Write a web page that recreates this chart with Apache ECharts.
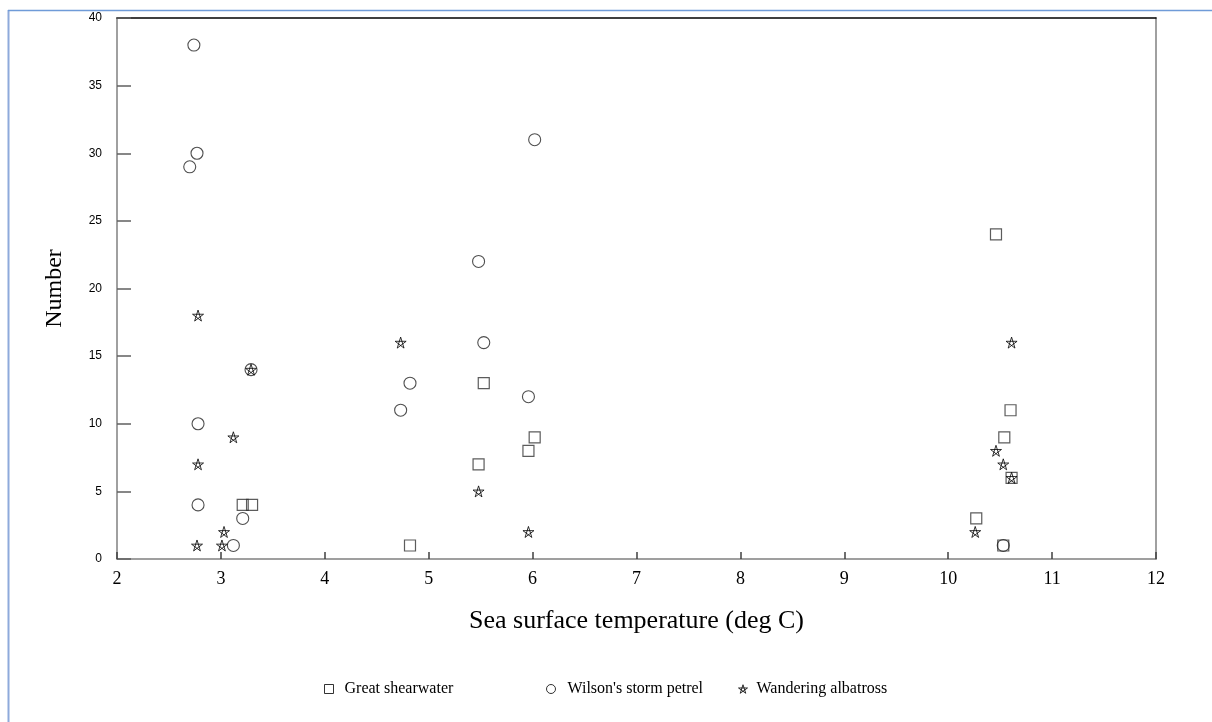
<!DOCTYPE html>
<html>
<head>
<meta charset="utf-8">
<script src="https://cdn.jsdelivr.net/npm/echarts@6/dist/echarts.min.js"></script>
<style>
html,body{margin:0;padding:0;background:#fff;}
#chart{width:1212px;height:722px;}
</style>
</head>
<body>
<div id="chart"></div>
<script>
// Data
const seriesNames = ["Great shearwater", "Wilson's storm petrel", "Wandering albatross"];
const xTicks = [2, 3, 4, 5, 6, 7, 8, 9, 10, 11, 12];
const yTicks = [0, 5, 10, 15, 20, 25, 30, 35, 40];

const sstShearwater = [3.21, 3.30, 4.82, 5.53, 5.48, 6.02, 5.96, 10.46, 10.60, 10.54, 10.61, 10.27, 10.53];
const numShearwater = [4, 4, 1, 13, 7, 9, 8, 24, 11, 9, 6, 3, 1];

const sstPetrel = [2.74, 2.77, 2.70, 3.29, 2.78, 2.78, 3.21, 3.12, 6.02, 5.48, 5.53, 4.82, 5.96, 4.73, 10.53];
const numPetrel = [38, 30, 29, 14, 10, 4, 3, 1, 31, 22, 16, 13, 12, 11, 1];

const sstAlbatross = [2.78, 3.29, 3.12, 2.78, 3.03, 2.77, 3.01, 4.73, 5.48, 5.96, 10.61, 10.46, 10.53, 10.61, 10.26];
const numAlbatross = [18, 14, 9, 7, 2, 1, 1, 16, 5, 2, 16, 8, 7, 6, 2];

const pairs = (xs, ys) => xs.map((x, i) => [x, ys[i]]);
const starPath = 'path://M50 0 L79.4 90.5 L2.4 34.5 L97.6 34.5 L20.6 90.5 Z';

const chart = echarts.init(document.getElementById('chart'), null, {renderer: 'canvas'});
const serif = '"Liberation Serif", "Times New Roman", serif';
const sans = '"Liberation Sans", Arial, sans-serif';

const legendIconStyle = {color: 'rgba(0,0,0,0)', borderColor: '#000', borderWidth: 1};

function legendAt(left, name, icon, size, pad) {
  return {
    left: left, top: 676, itemWidth: size, itemHeight: size,
    selectedMode: false,
    data: [{name: name, icon: icon, itemStyle: legendIconStyle}],
    textStyle: {fontFamily: serif, fontSize: 16, color: '#000', padding: [0, 0, 0, pad]}
  };
}

chart.setOption({
  animation: false,
  backgroundColor: '#fff',
  grid: {left: 117, top: 18, right: 56, bottom: 163, containLabel: false},
  legend: [
    legendAt(319, seriesNames[0], 'rect', 9, 6),
    legendAt(541, seriesNames[1], 'circle', 9, 7),
    legendAt(733, seriesNames[2], starPath, 9, 4)
  ],
  xAxis: [{
    type: 'value', min: xTicks[0], max: xTicks[xTicks.length - 1], interval: 1,
    name: 'Sea surface temperature (deg C)', nameLocation: 'middle', nameGap: 49,
    nameTextStyle: {fontFamily: serif, fontSize: 26, color: '#000'},
    axisLine: {show: true, onZero: false, lineStyle: {color: '#808080', width: 1.5}},
    axisTick: {show: true, inside: true, length: 7, lineStyle: {color: '#404040', width: 1.5}},
    axisLabel: {fontFamily: serif, fontSize: 18, color: '#000', margin: 11},
    splitLine: {show: false}
  }, {
    type: 'value', position: 'top', min: xTicks[0], max: xTicks[xTicks.length - 1],
    axisLine: {show: true, onZero: false, lineStyle: {color: '#000', width: 1.5}},
    axisTick: {show: false}, axisLabel: {show: false}, splitLine: {show: false}
  }],
  yAxis: [{
    type: 'value', min: yTicks[0], max: yTicks[yTicks.length - 1], interval: 5,
    name: 'Number', nameLocation: 'middle', nameGap: 50,
    nameTextStyle: {fontFamily: serif, fontSize: 24, color: '#000'},
    axisLine: {show: true, onZero: false, lineStyle: {color: '#808080', width: 1.5}},
    axisTick: {show: true, inside: true, length: 14, lineStyle: {color: '#606060', width: 1.5}},
    axisLabel: {fontFamily: sans, fontSize: 12, color: '#000', margin: 15},
    splitLine: {show: false}
  }, {
    type: 'value', position: 'right', min: yTicks[0], max: yTicks[yTicks.length - 1],
    axisLine: {show: true, onZero: false, lineStyle: {color: '#808080', width: 1.5}},
    axisTick: {show: false}, axisLabel: {show: false}, splitLine: {show: false}
  }],
  graphic: [
    {type: 'line', shape: {x1: 8.5, y1: 10, x2: 8.5, y2: 722}, style: {stroke: '#8eaadb', lineWidth: 2}, z: 100},
    {type: 'line', shape: {x1: 8, y1: 10.5, x2: 1212, y2: 10.5}, style: {stroke: '#6f9bd8', lineWidth: 1.5}, z: 100}
  ],
  series: [{
    name: seriesNames[0], type: 'scatter', symbol: 'rect', symbolSize: 11,
    itemStyle: {color: 'rgba(0,0,0,0)', borderColor: '#333', borderWidth: 1.2},
    data: pairs(sstShearwater, numShearwater)
  }, {
    name: seriesNames[1], type: 'scatter', symbol: 'circle', symbolSize: 12,
    itemStyle: {color: 'rgba(0,0,0,0)', borderColor: '#222', borderWidth: 1.1},
    data: pairs(sstPetrel, numPetrel)
  }, {
    name: seriesNames[2], type: 'scatter', symbol: starPath, symbolSize: 11,
    itemStyle: {color: 'rgba(0,0,0,0)', borderColor: '#000', borderWidth: 1},
    data: pairs(sstAlbatross, numAlbatross)
  }]
});
</script>
</body>
</html>
